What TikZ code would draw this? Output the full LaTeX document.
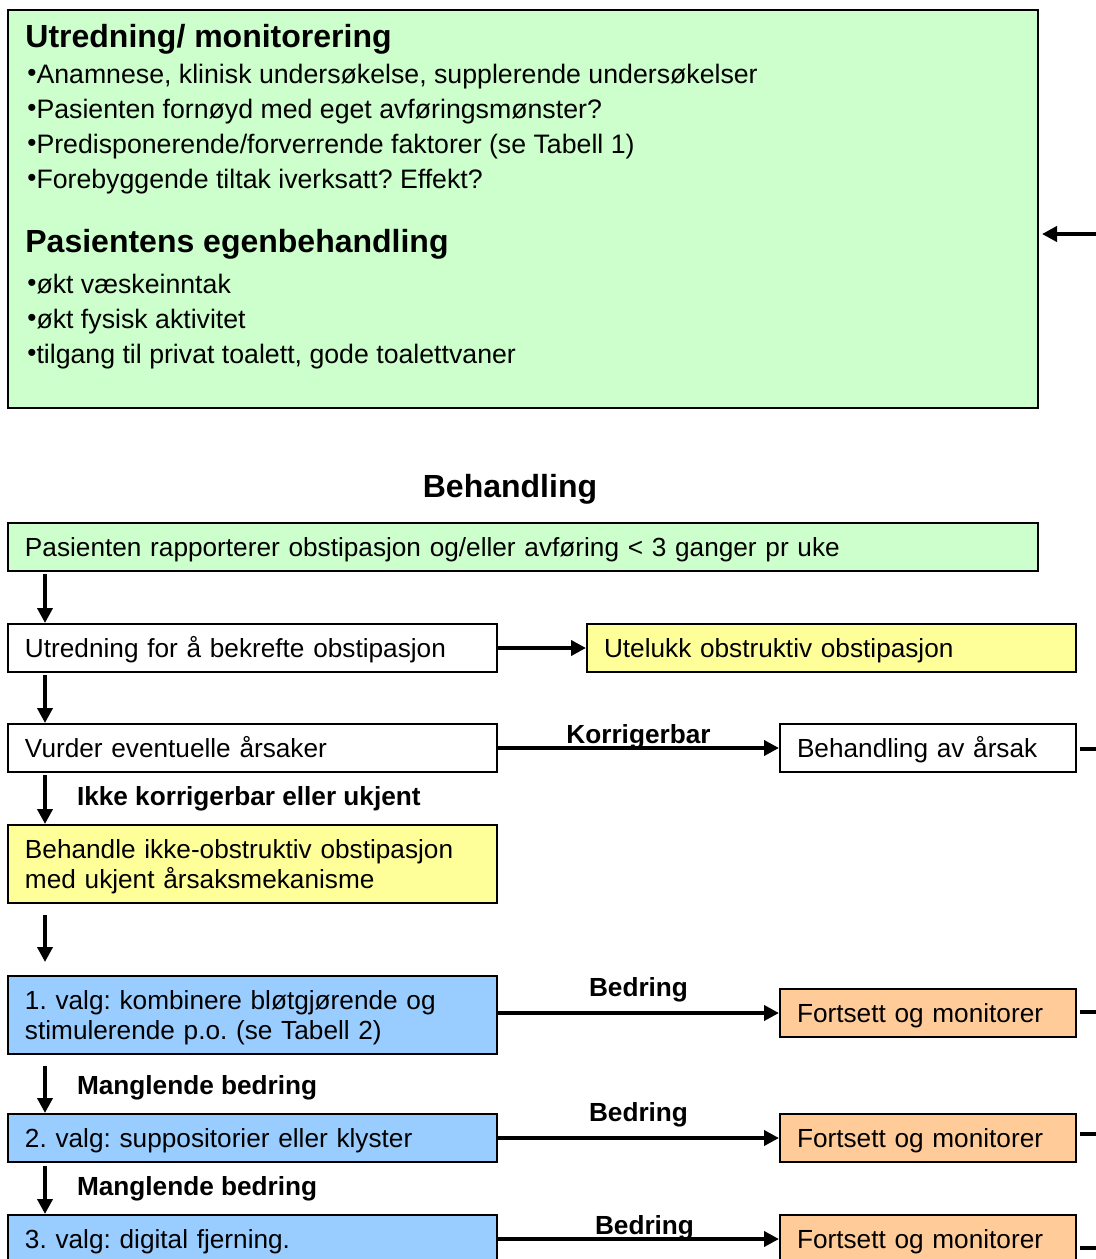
\documentclass[tikz,border=0pt]{standalone}
\usepackage{fontspec}
\setmainfont{Liberation Sans}
\usetikzlibrary{arrows.meta,positioning}
\definecolor{paleGreen}{HTML}{CCFFCC}
\definecolor{paleYellow}{HTML}{FFFF99}
\definecolor{paleBlue}{HTML}{99CCFF}
\definecolor{paleOrange}{HTML}{FFCC99}
\frenchspacing
\newcommand{\bodyfont}{\fontsize{13.1}{15}\selectfont}
\newcommand{\listfont}{\fontsize{13.35}{15}\selectfont}
\newcommand{\headfont}{\fontsize{16}{19}\selectfont\bfseries}
\newcommand{\blt}{{\fontsize{13}{13}\selectfont\raisebox{1.2pt}{•}}}
\tikzset{
    box/.style={rectangle, draw, line width=1pt, inner xsep=8.5pt, inner ysep=0pt,
    	align=left, anchor=north west, font=\bodyfont, text width=227.5pt,
    	text height=11pt, text depth=1.6pt, minimum height=24pt},
    twolines/.style={text depth=16.6pt, minimum height=39pt}
}
\tikzset{
    txt/.style={anchor=base west, inner sep=0pt, font=\listfont},
    head/.style={anchor=base west, inner sep=0pt, font=\headfont},
    lbl/.style={inner sep=0pt, font=\bodyfont\bfseries}
}
\tikzset{
    flow/.style={line width=2pt, -{Triangle[length=7.5pt,width=7.5pt]}},
    conn/.style={line width=2pt}
}

\begin{document}
\begin{tikzpicture}[x=0.5pt,y=-0.5pt]
	\useasboundingbox (0,0) rectangle (1096,1259);
	\clip (0,0) rectangle (1096,1259);

	% utredning / egenbehandling
	\node (monitor) [box, fill=paleGreen, text width=498pt, text height=0pt, text depth=0pt,
		minimum height=199pt] at (7,9) {};
	\node (t1) [head] at (25,47) {Utredning/ monitorering};
	\node (b1) [txt] at (27,83.5) {\blt Anamnese, klinisk undersøkelse, supplerende undersøkelser};
	\node (b2) [txt] at (27,118.5) {\blt Pasienten fornøyd med eget avføringsmønster?};
	\node (b3) [txt] at (27,153.5) {\blt Predisponerende/forverrende faktorer (se Tabell 1)};
	\node (b4) [txt] at (27,188.5) {\blt Forebyggende tiltak iverksatt? Effekt?};
	\node (t2) [head] at (25,252.5) {Pasientens egenbehandling};
	\node (b5) [txt] at (27,293.5) {\blt økt væskeinntak};
	\node (b6) [txt] at (27,328.5) {\blt økt fysisk aktivitet};
	\node (b7) [txt] at (27,363.5) {\blt tilgang til privat toalett, gode toalettvaner};
	\coordinate (back) at (1096,234);

	% behandling
	\node (tittel) [lbl, font=\headfont] at (510,489) {Behandling};
	\node (rapport) [box, fill=paleGreen, text width=498pt] at (7,522)
		{Pasienten rapporterer obstipasjon og/eller avføring < 3 ganger pr uke};
	\node (bekreft) [box] at (7,623) {Utredning for å bekrefte obstipasjon};
	\node (utelukk) [box, fill=paleYellow] at (586,623) {Utelukk obstruktiv obstipasjon};
	\node (vurder) [box] at (7,723) {Vurder eventuelle årsaker};
	\node (aarsak) [box, text width=131pt] at (779,723) {Behandling av årsak};
	\node (ukjent) [box, twolines, fill=paleYellow] at (7,824)
		{Behandle ikke-obstruktiv obstipasjon\\med ukjent årsaksmekanisme};
	\node (valg1) [box, twolines, fill=paleBlue] at (7,975)
		{1. valg: kombinere bløtgjørende og\\stimulerende p.o. (se Tabell 2)};
	\node (fortsett1) [box, fill=paleOrange, text width=131pt] at (779,988) {Fortsett og monitorer};
	\node (valg2) [box, fill=paleBlue] at (7,1113) {2. valg: suppositorier eller klyster};
	\node (fortsett2) [box, fill=paleOrange, text width=131pt] at (779,1113) {Fortsett og monitorer};
	\node (valg3) [box, fill=paleBlue] at (7,1214) {3. valg: digital fjerning.};
	\node (fortsett3) [box, fill=paleOrange, text width=131pt] at (779,1214) {Fortsett og monitorer};
	\coordinate (exit1) at (1096,749);
	\coordinate (exit2) at (1096,1012);
	\coordinate (exit3) at (1096,1134);
	\coordinate (exit4) at (1096,1248);

	\draw[flow, shorten >=1.5pt] (back) -- (monitor.east |- back);

	\draw[flow, shorten <=1pt] ([xshift=19pt]rapport.south west) -- ([xshift=19pt]bekreft.north west);
	\draw[flow] (bekreft) -- (utelukk);
	\draw[flow, shorten <=1pt] ([xshift=19pt]bekreft.south west) -- ([xshift=19pt]vurder.north west);
	\draw[flow] (vurder) -- (aarsak)
		node (korr) [lbl, midway, anchor=base, yshift=2.25pt] {Korrigerbar};
	\draw[flow, shorten <=1pt] ([xshift=19pt]vurder.south west) -- ([xshift=19pt]ukjent.north west)
		node (ikke) [lbl, midway, anchor=west, xshift=15pt] {Ikke korrigerbar eller ukjent};
	\draw[flow, shorten <=5.5pt, shorten >=6.5pt] ([xshift=19pt]ukjent.south west) -- ([xshift=19pt]valg1.north west);
	\draw[flow] (valg1.east |- fortsett1.west) -- (fortsett1.west)
		node (bed1) [lbl, midway, anchor=base, yshift=8.25pt] {Bedring};
	\draw[flow, shorten <=5.5pt] ([xshift=19pt]valg1.south west) -- ([xshift=19pt]valg2.north west)
		node (mangl1) [lbl, midway, anchor=west, xshift=15pt, yshift=-1.75pt] {Manglende bedring};
	\draw[flow] (valg2) -- (fortsett2)
		node (bed2) [lbl, midway, anchor=base, yshift=8.25pt] {Bedring};
	\draw[flow, shorten <=1.5pt] ([xshift=19pt]valg2.south west) -- ([xshift=19pt]valg3.north west)
		node (mangl2) [lbl, midway, anchor=west, xshift=15pt] {Manglende bedring};
	\draw[flow] (valg3) -- (fortsett3)
		node (bed3) [lbl, midway, anchor=base, yshift=2.25pt, xshift=3pt] {Bedring};

	\draw[conn] ([xshift=1.5pt]aarsak.east |- exit1) -- (exit1);
	\draw[conn] ([xshift=1.5pt]fortsett1.east |- exit2) -- (exit2);
	\draw[conn] ([xshift=1.5pt]fortsett2.east |- exit3) -- (exit3);
	\draw[conn] ([xshift=1.5pt]fortsett3.east |- exit4) -- (exit4);
\end{tikzpicture}
\end{document}
